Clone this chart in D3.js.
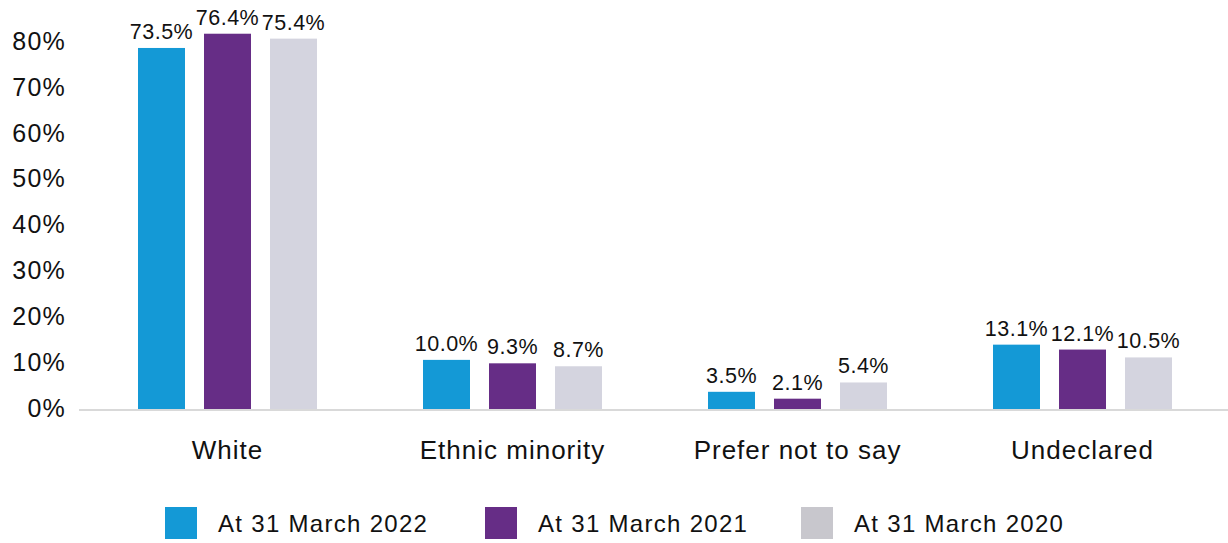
<!DOCTYPE html>
<html>
<head>
<meta charset="utf-8">
<script src="https://cdn.jsdelivr.net/npm/d3@7"></script>
<style>
  html, body { margin: 0; padding: 0; background: #fff; }
  svg { display: block; font-family: "Liberation Sans", Arial, Helvetica, sans-serif; }
</style>
</head>
<body>
<svg id="chart" width="1228" height="543"></svg>
<script>
const categories = ['White', 'Ethnic minority', 'Prefer not to say', 'Undeclared'];
const seriesNames = ['At 31 March 2022', 'At 31 March 2021', 'At 31 March 2020'];
const values2022 = [73.5, 10.0, 3.5, 13.1];
const values2021 = [76.4, 9.3, 2.1, 12.1];
const values2020 = [75.4, 8.7, 5.4, 10.5];
const tickValues = [0, 10, 20, 30, 40, 50, 60, 70, 80];

const barColors = ['#1499d6', '#662d86', '#d4d4df'];
const legendColors = ['#1499d6', '#662d86', '#c8c7cd'];

const seriesValues = [values2022, values2021, values2020];
const rows = categories.map((c, i) => ({
  category: c,
  values: seriesValues.map((s, j) => ({ series: seriesNames[j], value: s[i], idx: j }))
}));

const svg = d3.select('#chart');
const baseY = 409;

const x0 = d3.scaleBand().domain(categories).range([85, 1225]).paddingInner(0).paddingOuter(0);
const x1 = d3.scaleBand().domain(seriesNames).range([-89.5, 89.5]).paddingInner(19 / 66).paddingOuter(0);

// bar value scale (bars in the source are drawn on their own scale)
const yVal = d3.scaleLinear().domain([0, 80]).range([baseY, baseY - 392.96]);
// axis tick labels, evenly spaced as in the source
const yAxisScale = d3.scaleLinear().domain([0, 80]).range([408, 41.5]);

// y tick labels
const yAxis = d3.axisLeft(yAxisScale).tickValues(tickValues).tickFormat(d => d + '%').tickSize(0).tickPadding(0);
const yg = svg.append('g').attr('transform', 'translate(66,0)').call(yAxis);
yg.select('.domain').remove();
yg.selectAll('.tick text')
  .attr('fill', '#111')
  .style('font-size', '25px')
  .style('letter-spacing', '1.2px')
  .style('font-family', '"Liberation Sans", Arial, sans-serif');

// baseline
svg.append('line')
  .attr('x1', 79).attr('x2', 1228)
  .attr('y1', baseY + 1).attr('y2', baseY + 1)
  .attr('stroke', '#d9d9d9').attr('stroke-width', 2);

const groups = svg.selectAll('.grp').data(rows).enter().append('g')
  .attr('class', 'grp')
  .attr('transform', d => `translate(${x0(d.category) + x0.bandwidth() / 2},0)`);

groups.selectAll('rect').data(d => d.values).enter().append('rect')
  .attr('x', d => x1(d.series))
  .attr('width', x1.bandwidth())
  .attr('y', d => yVal(d.value))
  .attr('height', d => baseY - yVal(d.value))
  .attr('fill', d => barColors[d.idx]);

groups.selectAll('text.val').data(d => d.values).enter().append('text')
  .attr('class', 'val')
  .attr('x', d => x1(d.series) + x1.bandwidth() / 2)
  .attr('y', d => yVal(d.value) - 9)
  .attr('text-anchor', 'middle')
  .attr('fill', '#111')
  .style('font-size', '21.5px')
  .style('letter-spacing', '0.5px')
  .text(d => d.value.toFixed(1) + '%');

// category labels
const xAxis = d3.axisBottom(x0).tickSize(0).tickPadding(0);
const xg = svg.append('g').attr('transform', `translate(0,${baseY})`).call(xAxis);
xg.select('.domain').remove();
xg.selectAll('.tick text')
  .attr('y', 50).attr('dy', null)
  .attr('fill', '#111')
  .style('font-size', '26px')
  .style('letter-spacing', '1px')
  .style('font-family', '"Liberation Sans", Arial, sans-serif');

// legend
const legendX = [165, 485, 801];
const legend = svg.selectAll('.leg').data(seriesNames).enter().append('g')
  .attr('class', 'leg')
  .attr('transform', (d, i) => `translate(${legendX[i]},507)`);
legend.append('rect').attr('width', 32).attr('height', 32).attr('fill', (d, i) => legendColors[i]);
legend.append('text')
  .attr('x', 53).attr('y', 25)
  .attr('fill', '#111')
  .style('font-size', '24px')
  .style('letter-spacing', '1.3px')
  .text(d => d);
</script>
</body>
</html>
